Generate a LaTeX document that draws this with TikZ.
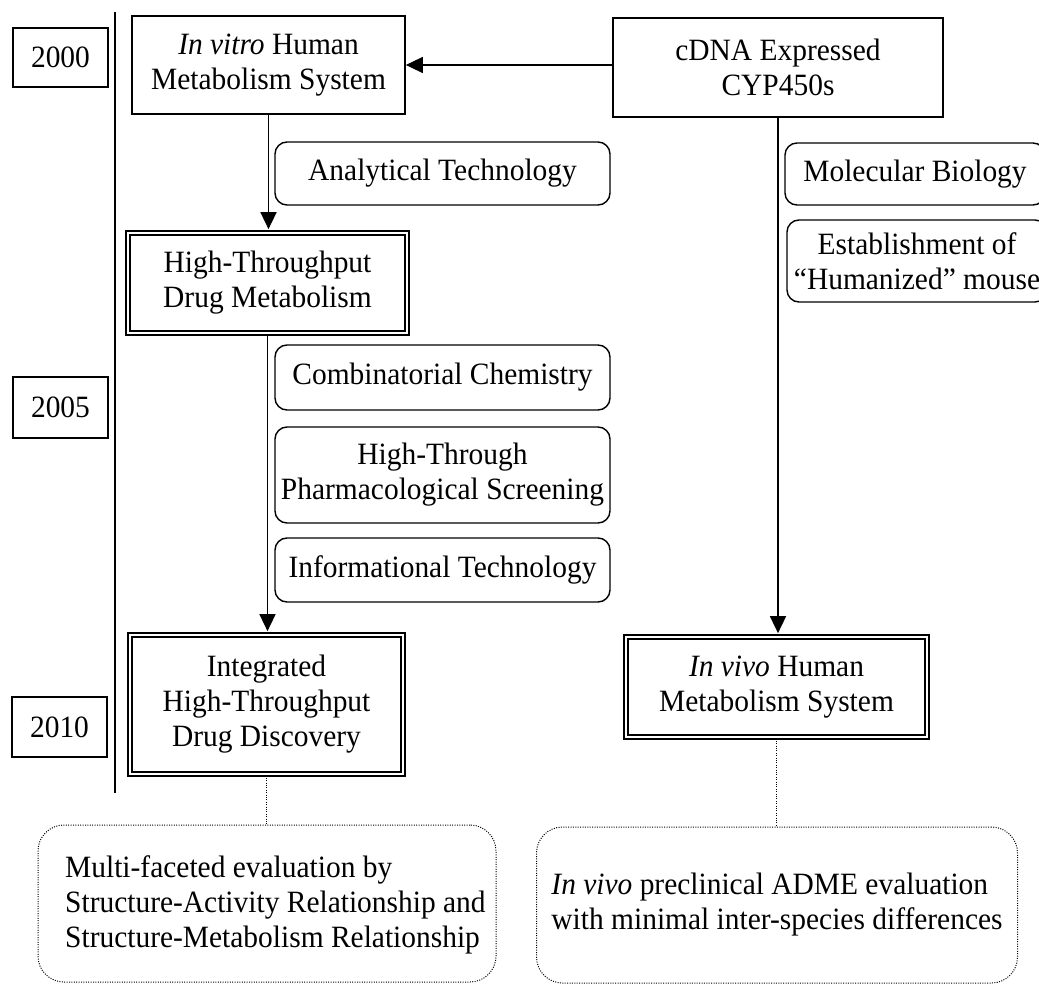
\documentclass[tikz,border=0pt]{standalone}
\usepackage{fontspec}
\setmainfont{Liberation Serif}[FakeStretch=0.95]
\usetikzlibrary{arrows.meta,calc}

\tikzset{
  base/.style={inner sep=0pt, align=center, font=\fontsize{31}{35}\selectfont},
  plainbox/.style={base, draw, line width=1.7pt},
  dblbox/.style={base, draw, double, line width=1.7pt, double distance=2.6pt},
  roundbox/.style={base, draw, line width=1.4pt, rounded corners=12pt},
  dotbox/.style={base, draw, line width=1pt, dash pattern=on 1pt off 1.4pt, rounded corners=26pt},
  arr/.style={line width=1.5pt, -{Triangle[length=17pt,width=16pt]}},
  dotline/.style={line width=1pt, dash pattern=on 1pt off 1.4pt},
}

\begin{document}
\begin{tikzpicture}[x=1pt, y=-1pt]
\useasboundingbox (0,0) rectangle (1039,984);

% time axis
\coordinate (t0) at (115,12);
\coordinate (t1) at (115,793);
\draw[line width=1.4pt] (t0) -- (t1);

% years
\node[plainbox, minimum width=95, minimum height=59] (y2000) at (60.5,57.5) {2000};
\node[plainbox, minimum width=95, minimum height=61] (y2005) at (60.5,407.5) {2005};
\node[plainbox, minimum width=95, minimum height=60] (y2010) at (59.5,727) {2010};

% main stages
\node[plainbox, minimum width=273, minimum height=98] (invitro) at (268.5,65)
  {\textit{In vitro} Human\\Metabolism System};
\node[plainbox, minimum width=330, minimum height=99] (cdna) at (778,67.5)
  {cDNA Expressed\\CYP450s};
\node[dblbox, minimum width=279, minimum height=100] (htdm) at (267.5,283)
  {High-Throughput\\Drug Metabolism};
\node[dblbox, minimum width=273, minimum height=139] (integ) at (266.5,704.5)
  {Integrated\\High-Throughput\\Drug Discovery};
\node[dblbox, minimum width=301, minimum height=100] (invivo) at (776.5,687)
  {\textit{In vivo} Human\\Metabolism System};

% enabling technologies
\node[roundbox, minimum width=335, minimum height=63] (anal) at (442.5,173.5) {Analytical Technology};
\node[roundbox, minimum width=335, minimum height=65] (comb) at (442.5,377.5) {Combinatorial Chemistry};
\node[roundbox, minimum width=335, minimum height=96] (hts) at (442.5,475) {High-Through\\Pharmacological Screening};
\node[roundbox, minimum width=335, minimum height=64] (info) at (442.5,570) {Informational Technology};
\node[roundbox, minimum width=260, minimum height=62] (molbio) at (915,174) {Molecular Biology};
\node[roundbox, minimum width=260, minimum height=82] (mouse) at (917,261) {Establishment of\\``Humanized'' mouse};

% outcomes
\node[dotbox, minimum width=458, minimum height=157] (evalL) at (267,903.5) {};
\node[base, align=left, anchor=west] (evalLtxt) at (65,905)
  {Multi-faceted evaluation by\\Structure-Activity Relationship and\\Structure-Metabolism Relationship};
\node[dotbox, minimum width=481, minimum height=156, align=left] (evalR) at (777,905)
  {\textit{In vivo} preclinical ADME evaluation\\with minimal inter-species differences};

% connectors
\draw[arr] (cdna.west |- invitro.east) -- (invitro.east);
\draw[arr, shorten >=3pt] (invitro.south) -- (invitro.south |- htdm.north);
\draw[arr, shorten >=3pt] (htdm.south) -- (htdm.south |- integ.north);
\draw[arr, shorten >=3pt] (cdna.south) -- (cdna.south |- invivo.north);
\draw[dotline, shorten <=3pt] (integ.south) -- (integ.south |- evalL.north);
\draw[dotline, shorten <=3pt] (invivo.south) -- (invivo.south |- evalR.north);
\end{tikzpicture}
\end{document}
